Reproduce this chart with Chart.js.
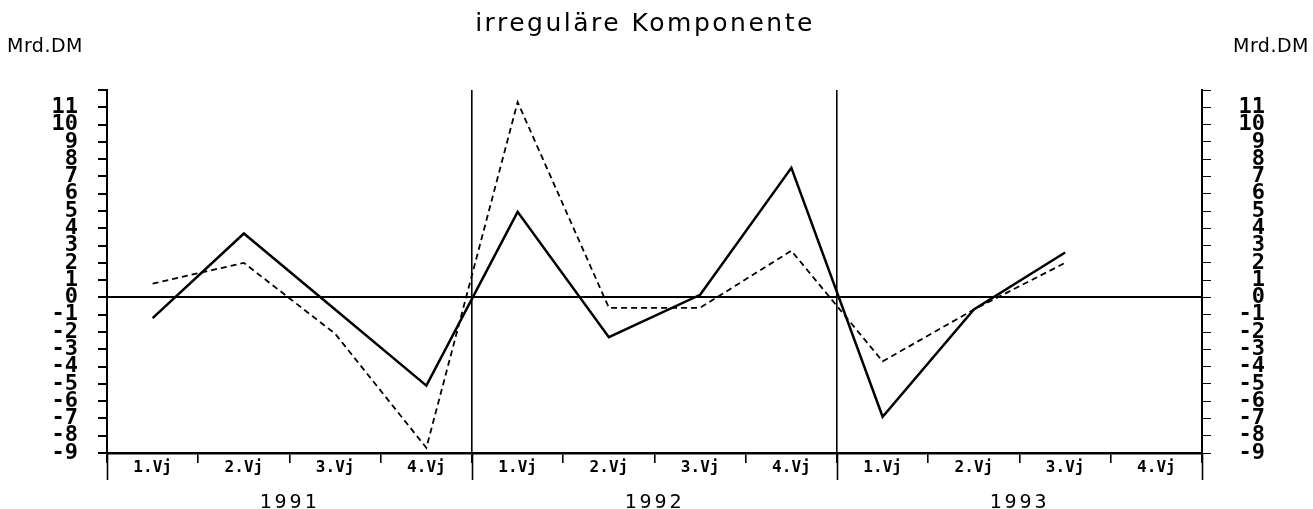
<!DOCTYPE html>
<html>
<head>
<meta charset="utf-8">
<script src="https://cdn.jsdelivr.net/npm/chart.js@4/dist/chart.umd.min.js"></script>
<style>
  html, body { margin: 0; padding: 0; background: #fff; }
  #wrap { position: relative; width: 1313px; height: 509px; }
  #title { position: absolute; left: 0; width: 1290px; top: 8px; text-align: center;
           font: 25px "DejaVu Sans", sans-serif; letter-spacing: 2.5px; color: #000; }
  .unit { position: absolute; top: 34px; font: 19px "DejaVu Sans", sans-serif; letter-spacing: 0.5px; color: #000; }
  #unitL { left: 7px; }
  #unitR { right: 4px; }
</style>
</head>
<body>
<div id="wrap">
  <canvas id="c" width="1313" height="509"></canvas>
  <div id="title">irreguläre Komponente</div>
  <div class="unit" id="unitL">Mrd.DM</div>
  <div class="unit" id="unitR">Mrd.DM</div>
</div>
<script>
// ---- data ----
const quarters = ['1.Vj','2.Vj','3.Vj','4.Vj','1.Vj','2.Vj','3.Vj','4.Vj','1.Vj','2.Vj','3.Vj','4.Vj'];
const years = ['1991','1992','1993'];
const solidValues  = [-1.2, 3.7, -0.7, -5.1, 4.95, -2.3, 0.15, 7.5, -6.9, -0.7, 2.6, null];
const dashedValues = [0.8, 2.0, -2.1, -8.7, 11.3, -0.6, -0.6, 2.7, -3.7, -0.7, 2.0, null];
const yMin = -9;
const yMax = 12;
const yLabelMax = 11;
const quartersPerYear = 4;

function yLabel(v) {
  if (v > yLabelMax) return '';
  return String(v);
}

function withLetterSpacing(scale, spacing) {
  if (scale._lsPatched) return;
  const orig = scale.drawLabels.bind(scale);
  scale.drawLabels = function (ca) {
    const c = this.ctx;
    c.save();
    c.letterSpacing = spacing;
    orig(ca);
    c.restore();
  };
  scale._lsPatched = true;
}

const yearLinesPlugin = {
  id: 'yearLines',
  afterDraw(chart) {
    const xs = chart.scales.x;
    const ca = chart.chartArea;
    const c = chart.ctx;
    c.save();
    c.strokeStyle = '#000';
    c.lineWidth = 1.6;
    for (let i = 0; i <= quarters.length; i += quartersPerYear) {
      const px = Math.round(xs.getPixelForValue(i - 0.5)) + 0.5;
      c.beginPath();
      c.moveTo(px, ca.bottom);
      c.lineTo(px, ca.bottom + 27);
      c.stroke();
    }
    c.restore();
  }
};

const yTicks = {
  stepSize: 1,
  autoSkip: false,
  color: '#000',
  font: { family: '"DejaVu Sans Mono", monospace', size: 22, weight: 'bold' },
  callback: yLabel
};

new Chart(document.getElementById('c'), {
  type: 'line',
  data: {
    labels: quarters,
    datasets: [
      { data: solidValues, borderColor: '#000', borderWidth: 2.5, pointRadius: 0, tension: 0, fill: false },
      { data: dashedValues, borderColor: '#000', borderWidth: 1.8, borderDash: [6, 4], pointRadius: 0, tension: 0, fill: false }
    ]
  },
  options: {
    responsive: false,
    animation: false,
    events: [],
    layout: { padding: { top: 90, left: 0, right: 48, bottom: 0 } },
    plugins: { legend: { display: false }, title: { display: false }, tooltip: { enabled: false } },
    scales: {
      x: {
        type: 'category',
        position: 'bottom',
        offset: true,
        weight: 0,
        grid: {
          offset: true,
          drawOnChartArea: true,
          color: (ctx) => (ctx.index % quartersPerYear === 0 ? '#000' : 'rgba(0,0,0,0)'),
          lineWidth: 1.6,
          tickColor: '#000',
          tickLength: 10
        },
        border: { display: true, color: '#000', width: 2.5 },
        ticks: {
          color: '#000', padding: -5, maxRotation: 0, autoSkip: false,
          font: { family: '"DejaVu Sans Mono", monospace', size: 16, weight: 'bold' }
        },
        afterFit(s) { s.height = 30; }
      },
      years: {
        type: 'category',
        position: 'bottom',
        labels: years,
        offset: true,
        weight: 1,
        grid: { display: false, drawTicks: false },
        border: { display: false },
        ticks: {
          color: '#000', padding: 8, maxRotation: 0,
          font: { family: '"DejaVu Sans Mono", monospace', size: 20 }
        },
        afterFit(s) { s.height = 26; withLetterSpacing(s, '3px'); }
      },
      y: {
        position: 'left',
        min: yMin, max: yMax,
        grid: {
          drawOnChartArea: true,
          color: (ctx) => (ctx.tick && ctx.tick.value === 0 ? '#000' : 'rgba(0,0,0,0)'),
          lineWidth: 2,
          tickColor: '#000',
          tickLength: 9
        },
        border: { display: true, color: '#000', width: 2 },
        ticks: Object.assign({ padding: 20 }, yTicks),
        afterFit(s) { s.width = 107; }
      },
      y2: {
        position: 'right',
        min: yMin, max: yMax,
        grid: { drawOnChartArea: false, tickColor: '#000', tickLength: 9 },
        border: { display: true, color: '#000', width: 2 },
        ticks: Object.assign({ padding: 19, crossAlign: 'far' }, yTicks),
        afterFit(s) { s.width = 63; }
      }
    }
  },
  plugins: [yearLinesPlugin]
});
</script>
</body>
</html>
